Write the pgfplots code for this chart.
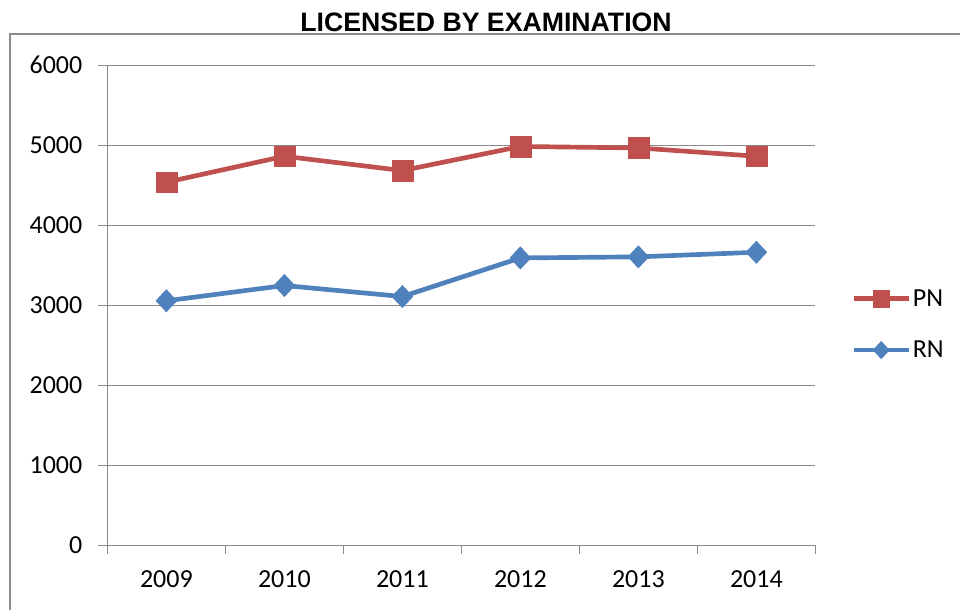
\documentclass[border=0pt]{standalone}
\usepackage{fontspec}
\setmainfont{Carlito}
\newfontfamily\titlefont{Liberation Sans}
\usepackage{pgfplots}
\pgfplotsset{compat=1.18}

\definecolor{pnred}{HTML}{C0504D}
\definecolor{rnblue}{HTML}{4F81BD}
\definecolor{gridgray}{HTML}{8A8A8A}
\definecolor{framegray}{HTML}{8C8C8C}

\begin{document}
\begin{tikzpicture}[x=0.75pt, y=0.75pt]
  \useasboundingbox (0,0) rectangle (960,610);
  % chart frame, runs off the right and bottom edges
  \draw[framegray, line width=1.6pt] (10,-30) rectangle (1000,576);
  \node[font=\titlefont\bfseries\fontsize{20}{22}\selectfont] at (486,588)
    {LICENSED BY EXAMINATION};

  \begin{axis}[
    at={(91,81)}, anchor=south west,
    scale only axis,
    width=531pt, height=360pt,
    xmin=-0.5, xmax=5.5,
    ymin=0, ymax=6000,
    xtick={0,1,2,3,4,5},
    xticklabels={2009,2010,2011,2012,2013,2014},
    minor xtick={-0.5,0.5,1.5,2.5,3.5,4.5,5.5},
    ytick={0,1000,2000,3000,4000,5000,6000},
    axis x line*=bottom,
    axis y line*=left,
    axis line style={gridgray, line width=0.8pt},
    ymajorgrids,
    grid style={gridgray, line width=0.8pt},
    tick align=outside,
    major x tick style={draw=none},
    major tick length=6.75pt,
    minor tick length=6.75pt,
    tick style={gridgray, line width=0.8pt},
    ticklabel style={font=\fontsize{19.5}{22}\selectfont},
    /pgf/number format/assume math mode=true,
    /pgf/number format/1000 sep={},
    xticklabel style={yshift=-9pt},
    yticklabel style={xshift=-8.5pt},
    clip=false,
    legend style={draw=none, fill=none, at={(1.045,0.46)}, anchor=west,
      font=\fontsize{19.5}{22}\selectfont, row sep=21.5pt,
      nodes={inner sep=1.5pt}},
    legend cell align=left,
    legend image code/.code={
      \draw[mark repeat=2, mark phase=2, #1, every mark/.append style={scale=0.78}]
        plot coordinates {(0pt,0pt) (20.5pt,0pt) (41pt,0pt)};
    },
  ]
    \addplot[pnred, line width=3.5pt, mark=square*, mark size=7.8pt,
             mark options={solid, fill=pnred, line width=0.3pt}]
      coordinates {(0,4537) (1,4862) (2,4683) (3,4984) (4,4966) (5,4862)};
    \addlegendentry{PN}
    \addplot[rnblue, line width=3.5pt, mark=diamond*, mark size=8.4pt,
             mark options={solid, fill=rnblue, line width=0.3pt, xscale=1.25}]
      coordinates {(0,3055) (1,3246) (2,3108) (3,3591) (4,3604) (5,3662)};
    \addlegendentry{RN}
  \end{axis}
\end{tikzpicture}
\end{document}
